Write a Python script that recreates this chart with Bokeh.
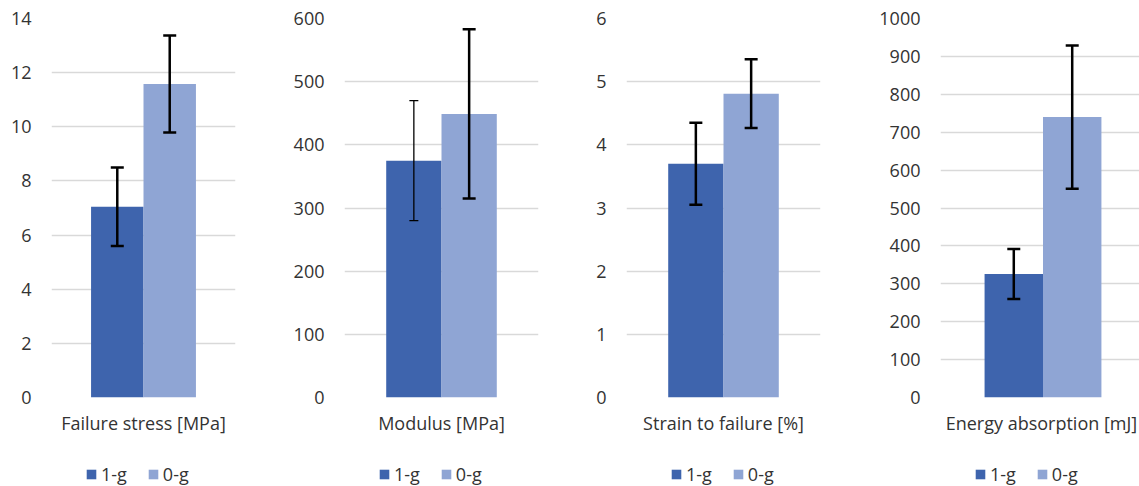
from bokeh.plotting import figure
from bokeh.layouts import row, column
from bokeh.models import (ColumnDataSource, Range1d, FixedTicker, Whisker, TeeHead,
                          Legend, LegendItem)
from bokeh.embed import file_html
from bokeh.resources import INLINE

# ---- data ----
categories = ["Failure stress [MPa]", "Modulus [MPa]", "Strain to failure [%]", "Energy absorption [mJ]"]
series = ["1-g", "0-g"]
mean_1g = [7.05, 375, 3.70, 326]
mean_0g = [11.58, 449, 4.81, 740]
err_1g = [1.45, 95, 0.65, 66]
err_0g = [1.79, 134, 0.545, 189]
y_max = [14, 600, 6, 1000]
y_step = [2, 100, 1, 100]

# ---- layout / style ----
FONT = "Open Sans"
FS = "18px"
TEXT = "#333333"
GRID = "#d9d9d9"
COLORS = ["#3e64ad", "#8fa5d4"]
fig_w = [290, 290, 270, 289]
left_b = [51, 53, 46, 90]
frame_w = [184, 195, 194, 199]
x_end = [1, 1, 1, 0.9415]
label_pos = [0, 0, 0, -0.015]
legend_x = [34, 34, 44, 34]
err_lw = [[2.5, 2.5], [1.3, 2.5], [2.5, 2.5], [2.5, 2.5]]
err_cap = [[13, 13], [9, 13], [13, 13], [13, 13]]
BAR_OFF = 0.285
BAR_W = 0.57
H_MAIN = 456
H_LEG = 30
TOP_B = 18
BOT_B = H_MAIN - TOP_B - 379

cols = []
for i, cat in enumerate(categories):
    right_b = fig_w[i] - left_b[i] - frame_w[i]
    p = figure(width=fig_w[i], height=H_MAIN, x_range=Range1d(-1, x_end[i]),
               y_range=Range1d(0, y_max[i]), output_backend="svg",
               toolbar_location=None, min_border_left=left_b[i],
               min_border_right=right_b, min_border_top=TOP_B,
               min_border_bottom=BOT_B)
    p.outline_line_color = None
    ticks = list(range(0, y_max[i] + 1, y_step[i]))
    p.xgrid.visible = False
    p.ygrid.ticker = FixedTicker(ticks=ticks)
    p.ygrid.grid_line_color = GRID
    p.ygrid.grid_line_width = 1.5
    for ax in (p.xaxis[0], p.yaxis[0]):
        ax.axis_line_color = None
        ax.major_tick_line_color = None
        ax.minor_tick_line_color = None
        ax.major_tick_out = 0
        ax.major_tick_in = 0
        ax.minor_tick_out = 0
        ax.minor_tick_in = 0
        ax.axis_label_standoff = 0
        ax.major_label_text_font = FONT
        ax.major_label_text_font_size = FS
        ax.major_label_text_color = TEXT
    p.yaxis.ticker = FixedTicker(ticks=ticks)
    p.yaxis.major_label_standoff = 20

    p.xaxis.ticker = FixedTicker(ticks=[label_pos[i]])
    p.xaxis.major_label_overrides = {label_pos[i]: cat}
    p.xaxis.major_label_standoff = 13

    means = [mean_1g[i], mean_0g[i]]
    errs = [err_1g[i], err_0g[i]]
    for j, s in enumerate(series):
        xpos = -BAR_OFF if j == 0 else BAR_OFF
        src = ColumnDataSource(dict(x=[xpos], top=[means[j]],
                                    upper=[means[j] + errs[j]],
                                    lower=[means[j] - errs[j]]))
        p.vbar(x="x", top="top", bottom=0, width=BAR_W, source=src,
               fill_color=COLORS[j], line_color=None)
        lw = err_lw[i][j]
        cap = err_cap[i][j]
        w = Whisker(source=src, base="x", upper="upper", lower="lower",
                    dimension="height", line_color="black", line_width=lw,
                    level="overlay",
                    upper_head=TeeHead(size=cap, line_width=lw, line_color="black"),
                    lower_head=TeeHead(size=cap, line_width=lw, line_color="black"))
        p.add_layout(w)

    # legend strip below each chart (its frame aligns with the chart's frame)
    lf = figure(width=fig_w[i], height=H_LEG, x_range=Range1d(0, 1), y_range=Range1d(0, 1),
                output_backend="svg", toolbar_location=None,
                x_axis_location=None, y_axis_location=None,
                min_border_left=left_b[i], min_border_right=right_b,
                min_border_top=0, min_border_bottom=0)
    lf.outline_line_color = None
    lf.center = []
    items = []
    for j, s in enumerate(series):
        # zero-area bar: only used to supply the legend swatch
        r = lf.vbar(x=[0.5], top=[0], bottom=0, width=0, fill_color=COLORS[j], line_color=None)
        items.append(LegendItem(label=s, renderers=[r]))
    leg = Legend(items=items, orientation="horizontal", location=(legend_x[i], 0),
                 glyph_width=12, glyph_height=12, label_standoff=4, spacing=20,
                 padding=0, margin=0, border_line_color=None, label_height=12,
                 background_fill_alpha=0, label_text_font=FONT,
                 label_text_font_size=FS, label_text_color=TEXT)
    lf.add_layout(leg, "center")
    cols.append(column(p, lf, spacing=0))

layout = row(*cols, spacing=0)
open("out.html", "w").write(file_html(layout, INLINE))
